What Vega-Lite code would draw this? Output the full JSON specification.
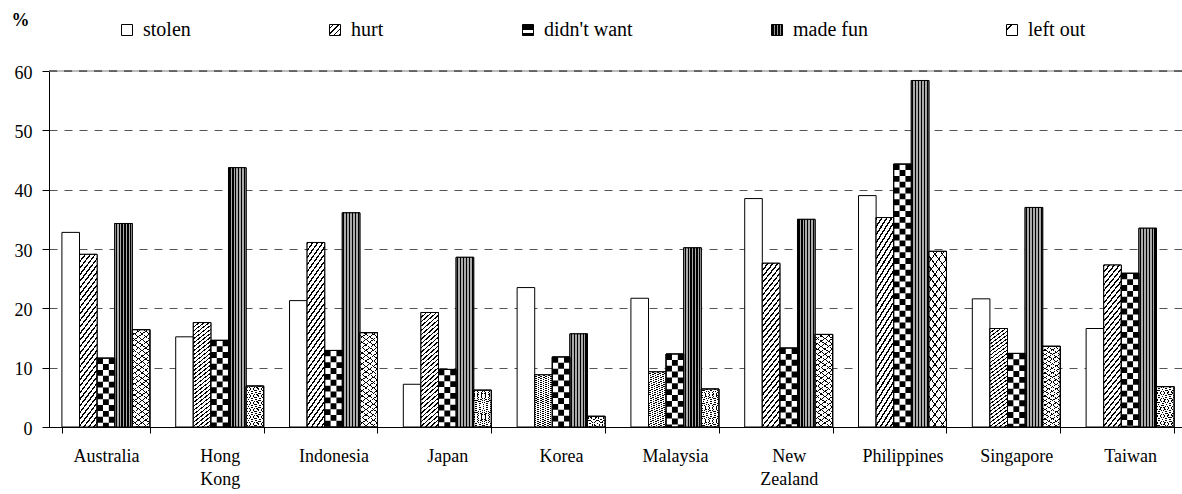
{
  "$schema": "https://vega.github.io/schema/vega-lite/v6.json",
  "width": 1133,
  "height": 356,
  "autosize": "none",
  "padding": {"left": 49, "top": 71, "right": 0, "bottom": 67},
  "background": "white",
  "config": {"view": {"stroke": null}, "font": "Liberation Serif"},
  "data": {"values": [
    {"country": "Australia", "category": "stolen", "value": 32.8},
    {"country": "Australia", "category": "hurt", "value": 29.1},
    {"country": "Australia", "category": "didn't want", "value": 11.6},
    {"country": "Australia", "category": "made fun", "value": 34.3},
    {"country": "Australia", "category": "left out", "value": 16.4},
    {"country": "Hong Kong", "category": "stolen", "value": 15.2},
    {"country": "Hong Kong", "category": "hurt", "value": 17.6},
    {"country": "Hong Kong", "category": "didn't want", "value": 14.6},
    {"country": "Hong Kong", "category": "made fun", "value": 43.7},
    {"country": "Hong Kong", "category": "left out", "value": 6.9},
    {"country": "Indonesia", "category": "stolen", "value": 21.3},
    {"country": "Indonesia", "category": "hurt", "value": 31.1},
    {"country": "Indonesia", "category": "didn't want", "value": 12.9},
    {"country": "Indonesia", "category": "made fun", "value": 36.1},
    {"country": "Indonesia", "category": "left out", "value": 15.9},
    {"country": "Japan", "category": "stolen", "value": 7.2},
    {"country": "Japan", "category": "hurt", "value": 19.3},
    {"country": "Japan", "category": "didn't want", "value": 9.7},
    {"country": "Japan", "category": "made fun", "value": 28.6},
    {"country": "Japan", "category": "left out", "value": 6.2},
    {"country": "Korea", "category": "stolen", "value": 23.5},
    {"country": "Korea", "category": "hurt", "value": 8.8},
    {"country": "Korea", "category": "didn't want", "value": 11.8},
    {"country": "Korea", "category": "made fun", "value": 15.7},
    {"country": "Korea", "category": "left out", "value": 1.8},
    {"country": "Malaysia", "category": "stolen", "value": 21.7},
    {"country": "Malaysia", "category": "hurt", "value": 9.3},
    {"country": "Malaysia", "category": "didn't want", "value": 12.3},
    {"country": "Malaysia", "category": "made fun", "value": 30.2},
    {"country": "Malaysia", "category": "left out", "value": 6.4},
    {"country": "New Zealand", "category": "stolen", "value": 38.5},
    {"country": "New Zealand", "category": "hurt", "value": 27.6},
    {"country": "New Zealand", "category": "didn't want", "value": 13.3},
    {"country": "New Zealand", "category": "made fun", "value": 35.0},
    {"country": "New Zealand", "category": "left out", "value": 15.6},
    {"country": "Philippines", "category": "stolen", "value": 39.0},
    {"country": "Philippines", "category": "hurt", "value": 35.3},
    {"country": "Philippines", "category": "didn't want", "value": 44.3},
    {"country": "Philippines", "category": "made fun", "value": 58.4},
    {"country": "Philippines", "category": "left out", "value": 29.6},
    {"country": "Singapore", "category": "stolen", "value": 21.6},
    {"country": "Singapore", "category": "hurt", "value": 16.6},
    {"country": "Singapore", "category": "didn't want", "value": 12.4},
    {"country": "Singapore", "category": "made fun", "value": 37.0},
    {"country": "Singapore", "category": "left out", "value": 13.6},
    {"country": "Taiwan", "category": "stolen", "value": 16.6},
    {"country": "Taiwan", "category": "hurt", "value": 27.3},
    {"country": "Taiwan", "category": "didn't want", "value": 25.9},
    {"country": "Taiwan", "category": "made fun", "value": 33.5},
    {"country": "Taiwan", "category": "left out", "value": 6.8}
  ]},
  "layer": [
    {
      "data": {"values": [{"value": 60}]},
      "mark": {"type": "rule", "color": "#a8a8a8", "strokeWidth": 1.5},
      "encoding": {"y": {"field": "value", "type": "quantitative", "scale": {"domain": [0, 60], "nice": false}}}
    },
    {
      "data": {"values": [{"value": 60}]},
      "mark": {"type": "rule", "color": "#505050", "strokeWidth": 1.5, "strokeDash": [8, 7]},
      "encoding": {"y": {"field": "value", "type": "quantitative"}}
    },
    {
      "mark": {"type": "bar", "stroke": "black", "strokeWidth": 1},
      "encoding": {
        "x": {
          "field": "country", "type": "nominal", "sort": null,
          "scale": {"type": "band", "domain": ["Australia", "Hong Kong", "Indonesia", "Japan", "Korea", "Malaysia", "New Zealand", "Philippines", "Singapore", "Taiwan"], "range": [0, 1138], "paddingInner": 0.227, "paddingOuter": 0.1135},
          "axis": {
            "title": null, "labelAngle": 0, "tickBand": "extent", "tickSize": 6, "labelPadding": 14,
            "labelFontSize": 18, "labelLineHeight": 23, "labelColor": "black", "tickColor": "black",
            "domainColor": "black", "labelFont": "Liberation Serif",
            "labelExpr": "datum.value == 'Hong Kong' ? ['Hong', 'Kong'] : datum.value == 'New Zealand' ? ['New', 'Zealand'] : datum.value"
          }
        },
        "xOffset": {
          "field": "category", "type": "nominal",
          "scale": {"domain": ["stolen", "hurt", "didn't want", "made fun", "left out"], "paddingInner": 0, "paddingOuter": 0}
        },
        "y": {
          "field": "value", "type": "quantitative",
          "scale": {"domain": [0, 60], "nice": false},
          "axis": {
            "title": "%", "titleAngle": 0, "titleX": -29, "titleY": -51, "titleAlign": "center", "titleBaseline": "middle",
            "titleFontSize": 18, "titleFontWeight": "bold", "titleFont": "Liberation Serif", "titleColor": "black",
            "values": [0, 10, 20, 30, 40, 50, 60], "tickSize": 7, "labelPadding": 10, "labelOffset": 2,
            "labelFontSize": 18, "labelColor": "black", "labelFont": "Liberation Serif",
            "tickColor": "black", "domainColor": "black",
            "grid": true, "gridDash": [8, 7], "gridColor": "#555555", "gridWidth": 1.2
          }
        },
        "fill": {
          "field": "category", "type": "nominal",
          "scale": {
            "domain": ["stolen", "hurt", "didn't want", "made fun", "left out"],
            "range": [
              "white",
              {"expr": "{gradient: 'linear', x1: 0, y1: 0, x2: 1, y2: 1, stops: [{offset: 0, color: '#fff'}, {offset: 0.14, color: '#fff'}, {offset: 0.14, color: '#000'}, {offset: 0.22, color: '#000'}, {offset: 0.22, color: '#fff'}, {offset: 0.39, color: '#fff'}, {offset: 0.39, color: '#000'}, {offset: 0.47, color: '#000'}, {offset: 0.47, color: '#fff'}, {offset: 0.64, color: '#fff'}, {offset: 0.64, color: '#000'}, {offset: 0.72, color: '#000'}, {offset: 0.72, color: '#fff'}, {offset: 0.89, color: '#fff'}, {offset: 0.89, color: '#000'}, {offset: 0.97, color: '#000'}, {offset: 0.97, color: '#fff'}, {offset: 1, color: '#fff'}]}"},
              {"expr": "{gradient: 'linear', x1: 0, y1: 0, x2: 0, y2: 1, stops: [{offset: 0, color: '#000'}, {offset: 0.5, color: '#000'}, {offset: 0.5, color: '#fff'}, {offset: 0.8, color: '#fff'}, {offset: 0.8, color: '#000'}, {offset: 1, color: '#000'}]}"},
              {"expr": "{gradient: 'linear', x1: 0, y1: 0, x2: 1, y2: 0, stops: [{offset: 0, color: '#000'}, {offset: 0.2, color: '#000'}, {offset: 0.2, color: '#999'}, {offset: 0.33, color: '#999'}, {offset: 0.33, color: '#000'}, {offset: 0.5, color: '#000'}, {offset: 0.5, color: '#999'}, {offset: 0.63, color: '#999'}, {offset: 0.63, color: '#000'}, {offset: 0.8, color: '#000'}, {offset: 0.8, color: '#999'}, {offset: 0.9, color: '#999'}, {offset: 0.9, color: '#000'}, {offset: 1, color: '#000'}]}"},
              {"expr": "{gradient: 'linear', x1: 0, y1: 0, x2: 1, y2: 1, stops: [{offset: 0, color: '#fff'}, {offset: 0.2, color: '#fff'}, {offset: 0.2, color: '#000'}, {offset: 0.3, color: '#000'}, {offset: 0.3, color: '#fff'}, {offset: 1, color: '#fff'}]}"}
            ]
          },
          "legend": {
            "orient": "none", "legendX": 68, "legendY": -51, "direction": "horizontal", "columns": 5,
            "title": null, "padding": 0, "columnPadding": 134, "labelOffset": 6,
            "symbolType": "square", "symbolSize": 121, "symbolStrokeColor": "black", "symbolStrokeWidth": 1, "symbolOpacity": 1,
            "labelFont": "Liberation Serif", "labelFontSize": 20, "labelColor": "black", "labelLimit": 300,
            "encode": {"symbols": {"update": {"stroke": {"value": "black"}, "strokeWidth": {"value": 1}, "opacity": {"value": 1}, "fillOpacity": {"value": 1}}}}
          }
        }
      }
    },
    {
      "transform": [{"filter": {"field": "category", "equal": "hurt"}}],
      "mark": {"type": "bar", "stroke": "black", "strokeWidth": 1,
        "fill": {"gradient": "linear", "x1": 0, "y1": 0, "x2": 0.15, "y2": 1.12, "stops": [
          {"offset": 0, "color": "#000"}, {"offset": 0.011, "color": "#000"}, {"offset": 0.011, "color": "#fff"}, {"offset": 0.0333, "color": "#fff"},
          {"offset": 0.0333, "color": "#000"}, {"offset": 0.0443, "color": "#000"}, {"offset": 0.0443, "color": "#fff"}, {"offset": 0.0667, "color": "#fff"},
          {"offset": 0.0667, "color": "#000"}, {"offset": 0.0777, "color": "#000"}, {"offset": 0.0777, "color": "#fff"}, {"offset": 0.1, "color": "#fff"},
          {"offset": 0.1, "color": "#000"}, {"offset": 0.111, "color": "#000"}, {"offset": 0.111, "color": "#fff"}, {"offset": 0.1333, "color": "#fff"},
          {"offset": 0.1333, "color": "#000"}, {"offset": 0.1443, "color": "#000"}, {"offset": 0.1443, "color": "#fff"}, {"offset": 0.1667, "color": "#fff"},
          {"offset": 0.1667, "color": "#000"}, {"offset": 0.1777, "color": "#000"}, {"offset": 0.1777, "color": "#fff"}, {"offset": 0.2, "color": "#fff"},
          {"offset": 0.2, "color": "#000"}, {"offset": 0.211, "color": "#000"}, {"offset": 0.211, "color": "#fff"}, {"offset": 0.2333, "color": "#fff"},
          {"offset": 0.2333, "color": "#000"}, {"offset": 0.2443, "color": "#000"}, {"offset": 0.2443, "color": "#fff"}, {"offset": 0.2667, "color": "#fff"},
          {"offset": 0.2667, "color": "#000"}, {"offset": 0.2777, "color": "#000"}, {"offset": 0.2777, "color": "#fff"}, {"offset": 0.3, "color": "#fff"},
          {"offset": 0.3, "color": "#000"}, {"offset": 0.311, "color": "#000"}, {"offset": 0.311, "color": "#fff"}, {"offset": 0.3333, "color": "#fff"},
          {"offset": 0.3333, "color": "#000"}, {"offset": 0.3443, "color": "#000"}, {"offset": 0.3443, "color": "#fff"}, {"offset": 0.3667, "color": "#fff"},
          {"offset": 0.3667, "color": "#000"}, {"offset": 0.3777, "color": "#000"}, {"offset": 0.3777, "color": "#fff"}, {"offset": 0.4, "color": "#fff"},
          {"offset": 0.4, "color": "#000"}, {"offset": 0.411, "color": "#000"}, {"offset": 0.411, "color": "#fff"}, {"offset": 0.4333, "color": "#fff"},
          {"offset": 0.4333, "color": "#000"}, {"offset": 0.4443, "color": "#000"}, {"offset": 0.4443, "color": "#fff"}, {"offset": 0.4667, "color": "#fff"},
          {"offset": 0.4667, "color": "#000"}, {"offset": 0.4777, "color": "#000"}, {"offset": 0.4777, "color": "#fff"}, {"offset": 0.5, "color": "#fff"},
          {"offset": 0.5, "color": "#000"}, {"offset": 0.511, "color": "#000"}, {"offset": 0.511, "color": "#fff"}, {"offset": 0.5333, "color": "#fff"},
          {"offset": 0.5333, "color": "#000"}, {"offset": 0.5443, "color": "#000"}, {"offset": 0.5443, "color": "#fff"}, {"offset": 0.5667, "color": "#fff"},
          {"offset": 0.5667, "color": "#000"}, {"offset": 0.5777, "color": "#000"}, {"offset": 0.5777, "color": "#fff"}, {"offset": 0.6, "color": "#fff"},
          {"offset": 0.6, "color": "#000"}, {"offset": 0.611, "color": "#000"}, {"offset": 0.611, "color": "#fff"}, {"offset": 0.6333, "color": "#fff"},
          {"offset": 0.6333, "color": "#000"}, {"offset": 0.6443, "color": "#000"}, {"offset": 0.6443, "color": "#fff"}, {"offset": 0.6667, "color": "#fff"},
          {"offset": 0.6667, "color": "#000"}, {"offset": 0.6777, "color": "#000"}, {"offset": 0.6777, "color": "#fff"}, {"offset": 0.7, "color": "#fff"},
          {"offset": 0.7, "color": "#000"}, {"offset": 0.711, "color": "#000"}, {"offset": 0.711, "color": "#fff"}, {"offset": 0.7333, "color": "#fff"},
          {"offset": 0.7333, "color": "#000"}, {"offset": 0.7443, "color": "#000"}, {"offset": 0.7443, "color": "#fff"}, {"offset": 0.7667, "color": "#fff"},
          {"offset": 0.7667, "color": "#000"}, {"offset": 0.7777, "color": "#000"}, {"offset": 0.7777, "color": "#fff"}, {"offset": 0.8, "color": "#fff"},
          {"offset": 0.8, "color": "#000"}, {"offset": 0.811, "color": "#000"}, {"offset": 0.811, "color": "#fff"}, {"offset": 0.8333, "color": "#fff"},
          {"offset": 0.8333, "color": "#000"}, {"offset": 0.8443, "color": "#000"}, {"offset": 0.8443, "color": "#fff"}, {"offset": 0.8667, "color": "#fff"},
          {"offset": 0.8667, "color": "#000"}, {"offset": 0.8777, "color": "#000"}, {"offset": 0.8777, "color": "#fff"}, {"offset": 0.9, "color": "#fff"},
          {"offset": 0.9, "color": "#000"}, {"offset": 0.911, "color": "#000"}, {"offset": 0.911, "color": "#fff"}, {"offset": 0.9333, "color": "#fff"},
          {"offset": 0.9333, "color": "#000"}, {"offset": 0.9443, "color": "#000"}, {"offset": 0.9443, "color": "#fff"}, {"offset": 0.9667, "color": "#fff"},
          {"offset": 0.9667, "color": "#000"}, {"offset": 0.9777, "color": "#000"}, {"offset": 0.9777, "color": "#fff"}, {"offset": 1, "color": "#fff"}
        ]}},
      "encoding": {
        "x": {"field": "country", "type": "nominal", "sort": null, "scale": {"type": "band"}},
        "xOffset": {"field": "category", "type": "nominal"},
        "y": {"field": "value", "type": "quantitative"}
      }
    },
    {
      "transform": [{"filter": {"field": "category", "equal": "made fun"}}],
      "mark": {"type": "bar", "stroke": "black", "strokeWidth": 1,
        "fill": {"gradient": "linear", "x1": 0, "y1": 0, "x2": 1, "y2": 0, "stops": [
          {"offset": 0, "color": "#aaa"}, {"offset": 0.05, "color": "#aaa"}, {"offset": 0.05, "color": "#000"}, {"offset": 0.12, "color": "#000"}, {"offset": 0.12, "color": "#aaa"}, {"offset": 0.1667, "color": "#aaa"},
          {"offset": 0.1667, "color": "#aaa"}, {"offset": 0.2167, "color": "#aaa"}, {"offset": 0.2167, "color": "#000"}, {"offset": 0.2867, "color": "#000"}, {"offset": 0.2867, "color": "#aaa"}, {"offset": 0.3333, "color": "#aaa"},
          {"offset": 0.3333, "color": "#aaa"}, {"offset": 0.3833, "color": "#aaa"}, {"offset": 0.3833, "color": "#000"}, {"offset": 0.4533, "color": "#000"}, {"offset": 0.4533, "color": "#aaa"}, {"offset": 0.5, "color": "#aaa"},
          {"offset": 0.5, "color": "#aaa"}, {"offset": 0.55, "color": "#aaa"}, {"offset": 0.55, "color": "#000"}, {"offset": 0.62, "color": "#000"}, {"offset": 0.62, "color": "#aaa"}, {"offset": 0.6667, "color": "#aaa"},
          {"offset": 0.6667, "color": "#aaa"}, {"offset": 0.7167, "color": "#aaa"}, {"offset": 0.7167, "color": "#000"}, {"offset": 0.7867, "color": "#000"}, {"offset": 0.7867, "color": "#aaa"}, {"offset": 0.8333, "color": "#aaa"},
          {"offset": 0.8333, "color": "#aaa"}, {"offset": 0.8833, "color": "#aaa"}, {"offset": 0.8833, "color": "#000"}, {"offset": 0.9533, "color": "#000"}, {"offset": 0.9533, "color": "#aaa"}, {"offset": 1, "color": "#aaa"}
        ]}},
      "encoding": {
        "x": {"field": "country", "type": "nominal", "sort": null, "scale": {"type": "band"}},
        "xOffset": {"field": "category", "type": "nominal"},
        "y": {"field": "value", "type": "quantitative"}
      }
    },
    {
      "transform": [{"filter": {"field": "category", "equal": "left out"}}],
      "mark": {"type": "bar", "stroke": "black", "strokeWidth": 1,
        "fill": {"gradient": "linear", "x1": 0, "y1": 0, "x2": 0.15, "y2": 1.12, "stops": [
          {"offset": 0, "color": "#000"}, {"offset": 0.008, "color": "#000"}, {"offset": 0.008, "color": "#fff"}, {"offset": 0.05, "color": "#fff"},
          {"offset": 0.05, "color": "#000"}, {"offset": 0.058, "color": "#000"}, {"offset": 0.058, "color": "#fff"}, {"offset": 0.1, "color": "#fff"},
          {"offset": 0.1, "color": "#000"}, {"offset": 0.108, "color": "#000"}, {"offset": 0.108, "color": "#fff"}, {"offset": 0.15, "color": "#fff"},
          {"offset": 0.15, "color": "#000"}, {"offset": 0.158, "color": "#000"}, {"offset": 0.158, "color": "#fff"}, {"offset": 0.2, "color": "#fff"},
          {"offset": 0.2, "color": "#000"}, {"offset": 0.208, "color": "#000"}, {"offset": 0.208, "color": "#fff"}, {"offset": 0.25, "color": "#fff"},
          {"offset": 0.25, "color": "#000"}, {"offset": 0.258, "color": "#000"}, {"offset": 0.258, "color": "#fff"}, {"offset": 0.3, "color": "#fff"},
          {"offset": 0.3, "color": "#000"}, {"offset": 0.308, "color": "#000"}, {"offset": 0.308, "color": "#fff"}, {"offset": 0.35, "color": "#fff"},
          {"offset": 0.35, "color": "#000"}, {"offset": 0.358, "color": "#000"}, {"offset": 0.358, "color": "#fff"}, {"offset": 0.4, "color": "#fff"},
          {"offset": 0.4, "color": "#000"}, {"offset": 0.408, "color": "#000"}, {"offset": 0.408, "color": "#fff"}, {"offset": 0.45, "color": "#fff"},
          {"offset": 0.45, "color": "#000"}, {"offset": 0.458, "color": "#000"}, {"offset": 0.458, "color": "#fff"}, {"offset": 0.5, "color": "#fff"},
          {"offset": 0.5, "color": "#000"}, {"offset": 0.508, "color": "#000"}, {"offset": 0.508, "color": "#fff"}, {"offset": 0.55, "color": "#fff"},
          {"offset": 0.55, "color": "#000"}, {"offset": 0.558, "color": "#000"}, {"offset": 0.558, "color": "#fff"}, {"offset": 0.6, "color": "#fff"},
          {"offset": 0.6, "color": "#000"}, {"offset": 0.608, "color": "#000"}, {"offset": 0.608, "color": "#fff"}, {"offset": 0.65, "color": "#fff"},
          {"offset": 0.65, "color": "#000"}, {"offset": 0.658, "color": "#000"}, {"offset": 0.658, "color": "#fff"}, {"offset": 0.7, "color": "#fff"},
          {"offset": 0.7, "color": "#000"}, {"offset": 0.708, "color": "#000"}, {"offset": 0.708, "color": "#fff"}, {"offset": 0.75, "color": "#fff"},
          {"offset": 0.75, "color": "#000"}, {"offset": 0.758, "color": "#000"}, {"offset": 0.758, "color": "#fff"}, {"offset": 0.8, "color": "#fff"},
          {"offset": 0.8, "color": "#000"}, {"offset": 0.808, "color": "#000"}, {"offset": 0.808, "color": "#fff"}, {"offset": 0.85, "color": "#fff"},
          {"offset": 0.85, "color": "#000"}, {"offset": 0.858, "color": "#000"}, {"offset": 0.858, "color": "#fff"}, {"offset": 0.9, "color": "#fff"},
          {"offset": 0.9, "color": "#000"}, {"offset": 0.908, "color": "#000"}, {"offset": 0.908, "color": "#fff"}, {"offset": 0.95, "color": "#fff"},
          {"offset": 0.95, "color": "#000"}, {"offset": 0.958, "color": "#000"}, {"offset": 0.958, "color": "#fff"}, {"offset": 1, "color": "#fff"}
        ]}},
      "encoding": {
        "x": {"field": "country", "type": "nominal", "sort": null, "scale": {"type": "band"}},
        "xOffset": {"field": "category", "type": "nominal"},
        "y": {"field": "value", "type": "quantitative"}
      }
    },
    {
      "transform": [{"filter": {"field": "category", "equal": "left out"}}],
      "mark": {"type": "bar", "stroke": "black", "strokeWidth": 1,
        "fill": {"gradient": "linear", "x1": 0, "y1": 1, "x2": 0.15, "y2": -0.12, "stops": [
          {"offset": 0, "color": "#000"}, {"offset": 0.008, "color": "#000"}, {"offset": 0.008, "color": "rgba(255,255,255,0)"}, {"offset": 0.05, "color": "rgba(255,255,255,0)"},
          {"offset": 0.05, "color": "#000"}, {"offset": 0.058, "color": "#000"}, {"offset": 0.058, "color": "rgba(255,255,255,0)"}, {"offset": 0.1, "color": "rgba(255,255,255,0)"},
          {"offset": 0.1, "color": "#000"}, {"offset": 0.108, "color": "#000"}, {"offset": 0.108, "color": "rgba(255,255,255,0)"}, {"offset": 0.15, "color": "rgba(255,255,255,0)"},
          {"offset": 0.15, "color": "#000"}, {"offset": 0.158, "color": "#000"}, {"offset": 0.158, "color": "rgba(255,255,255,0)"}, {"offset": 0.2, "color": "rgba(255,255,255,0)"},
          {"offset": 0.2, "color": "#000"}, {"offset": 0.208, "color": "#000"}, {"offset": 0.208, "color": "rgba(255,255,255,0)"}, {"offset": 0.25, "color": "rgba(255,255,255,0)"},
          {"offset": 0.25, "color": "#000"}, {"offset": 0.258, "color": "#000"}, {"offset": 0.258, "color": "rgba(255,255,255,0)"}, {"offset": 0.3, "color": "rgba(255,255,255,0)"},
          {"offset": 0.3, "color": "#000"}, {"offset": 0.308, "color": "#000"}, {"offset": 0.308, "color": "rgba(255,255,255,0)"}, {"offset": 0.35, "color": "rgba(255,255,255,0)"},
          {"offset": 0.35, "color": "#000"}, {"offset": 0.358, "color": "#000"}, {"offset": 0.358, "color": "rgba(255,255,255,0)"}, {"offset": 0.4, "color": "rgba(255,255,255,0)"},
          {"offset": 0.4, "color": "#000"}, {"offset": 0.408, "color": "#000"}, {"offset": 0.408, "color": "rgba(255,255,255,0)"}, {"offset": 0.45, "color": "rgba(255,255,255,0)"},
          {"offset": 0.45, "color": "#000"}, {"offset": 0.458, "color": "#000"}, {"offset": 0.458, "color": "rgba(255,255,255,0)"}, {"offset": 0.5, "color": "rgba(255,255,255,0)"},
          {"offset": 0.5, "color": "#000"}, {"offset": 0.508, "color": "#000"}, {"offset": 0.508, "color": "rgba(255,255,255,0)"}, {"offset": 0.55, "color": "rgba(255,255,255,0)"},
          {"offset": 0.55, "color": "#000"}, {"offset": 0.558, "color": "#000"}, {"offset": 0.558, "color": "rgba(255,255,255,0)"}, {"offset": 0.6, "color": "rgba(255,255,255,0)"},
          {"offset": 0.6, "color": "#000"}, {"offset": 0.608, "color": "#000"}, {"offset": 0.608, "color": "rgba(255,255,255,0)"}, {"offset": 0.65, "color": "rgba(255,255,255,0)"},
          {"offset": 0.65, "color": "#000"}, {"offset": 0.658, "color": "#000"}, {"offset": 0.658, "color": "rgba(255,255,255,0)"}, {"offset": 0.7, "color": "rgba(255,255,255,0)"},
          {"offset": 0.7, "color": "#000"}, {"offset": 0.708, "color": "#000"}, {"offset": 0.708, "color": "rgba(255,255,255,0)"}, {"offset": 0.75, "color": "rgba(255,255,255,0)"},
          {"offset": 0.75, "color": "#000"}, {"offset": 0.758, "color": "#000"}, {"offset": 0.758, "color": "rgba(255,255,255,0)"}, {"offset": 0.8, "color": "rgba(255,255,255,0)"},
          {"offset": 0.8, "color": "#000"}, {"offset": 0.808, "color": "#000"}, {"offset": 0.808, "color": "rgba(255,255,255,0)"}, {"offset": 0.85, "color": "rgba(255,255,255,0)"},
          {"offset": 0.85, "color": "#000"}, {"offset": 0.858, "color": "#000"}, {"offset": 0.858, "color": "rgba(255,255,255,0)"}, {"offset": 0.9, "color": "rgba(255,255,255,0)"},
          {"offset": 0.9, "color": "#000"}, {"offset": 0.908, "color": "#000"}, {"offset": 0.908, "color": "rgba(255,255,255,0)"}, {"offset": 0.95, "color": "rgba(255,255,255,0)"},
          {"offset": 0.95, "color": "#000"}, {"offset": 0.958, "color": "#000"}, {"offset": 0.958, "color": "rgba(255,255,255,0)"}, {"offset": 1, "color": "rgba(255,255,255,0)"}
        ]}},
      "encoding": {
        "x": {"field": "country", "type": "nominal", "sort": null, "scale": {"type": "band"}},
        "xOffset": {"field": "category", "type": "nominal"},
        "y": {"field": "value", "type": "quantitative"}
      }
    },
    {
      "transform": [{"filter": {"field": "category", "equal": "didn't want"}}],
      "mark": {"type": "bar", "fill": "white", "stroke": "black", "strokeWidth": 1},
      "encoding": {
        "x": {"field": "country", "type": "nominal", "sort": null, "scale": {"type": "band"}},
        "xOffset": {"field": "category", "type": "nominal"},
        "y": {"field": "value", "type": "quantitative"}
      }
    },
    {
      "transform": [{"filter": {"field": "category", "equal": "didn't want"}}],
      "mark": {"type": "rule", "stroke": "black", "strokeWidth": 5.867, "strokeDash": [5.867, 5.867], "strokeDashOffset": 0, "xOffset": -5.867},
      "encoding": {
        "x": {"field": "country", "type": "nominal", "sort": null, "scale": {"type": "band"}},
        "y": {"field": "value", "type": "quantitative"},
        "y2": {"datum": 0}
      }
    },
    {
      "transform": [{"filter": {"field": "category", "equal": "didn't want"}}],
      "mark": {"type": "rule", "stroke": "black", "strokeWidth": 5.867, "strokeDash": [5.867, 5.867], "strokeDashOffset": 5.867, "xOffset": 0},
      "encoding": {
        "x": {"field": "country", "type": "nominal", "sort": null, "scale": {"type": "band"}},
        "y": {"field": "value", "type": "quantitative"},
        "y2": {"datum": 0}
      }
    },
    {
      "transform": [{"filter": {"field": "category", "equal": "didn't want"}}],
      "mark": {"type": "rule", "stroke": "black", "strokeWidth": 5.867, "strokeDash": [5.867, 5.867], "strokeDashOffset": 0, "xOffset": 5.867},
      "encoding": {
        "x": {"field": "country", "type": "nominal", "sort": null, "scale": {"type": "band"}},
        "y": {"field": "value", "type": "quantitative"},
        "y2": {"datum": 0}
      }
    },
    {
      "transform": [{"filter": {"field": "category", "equal": "didn't want"}}],
      "mark": {"type": "bar", "fillOpacity": 0, "stroke": "black", "strokeWidth": 1},
      "encoding": {
        "x": {"field": "country", "type": "nominal", "sort": null, "scale": {"type": "band"}},
        "xOffset": {"field": "category", "type": "nominal"},
        "y": {"field": "value", "type": "quantitative"}
      }
    }
  ]
}
